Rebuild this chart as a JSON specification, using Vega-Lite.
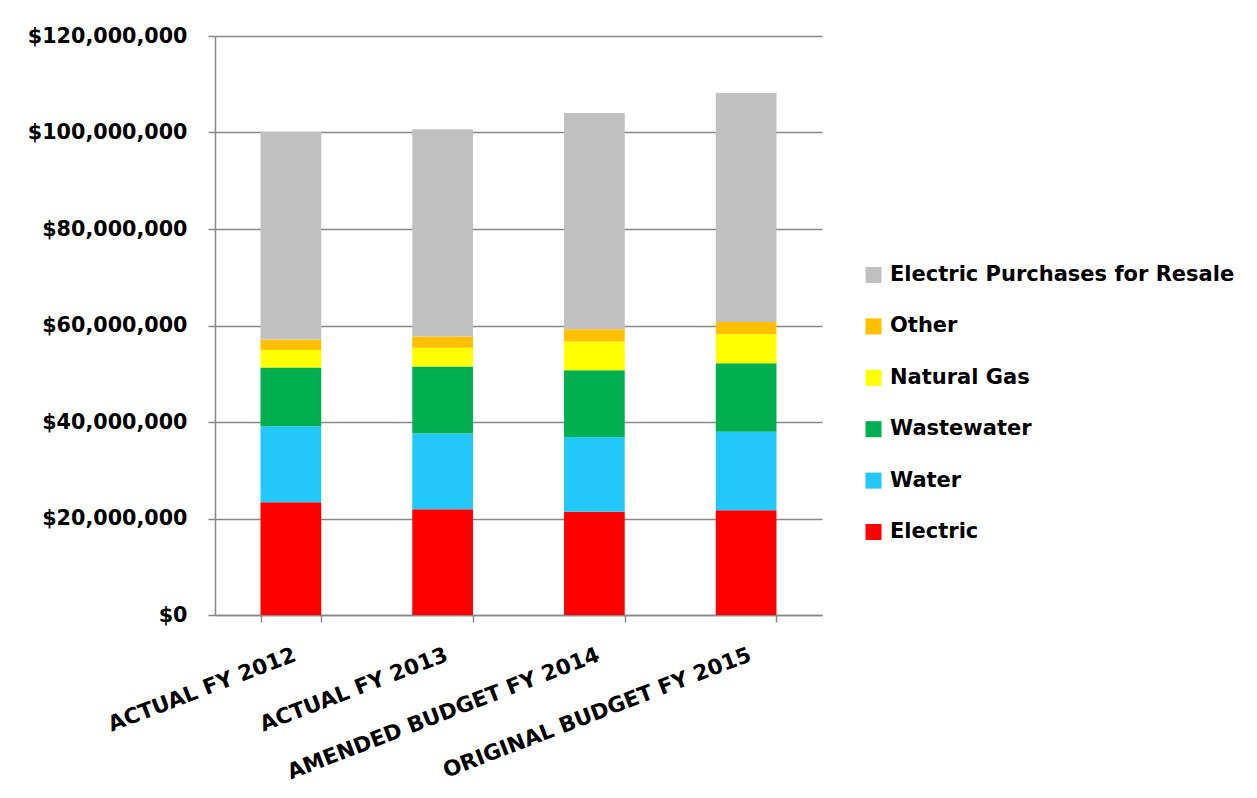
{
  "$schema": "https://vega.github.io/schema/vega-lite/v6.json",
  "width": 607,
  "height": 579,
  "autosize": {"type": "none"},
  "padding": {"left": 215, "top": 36, "right": 435, "bottom": 183},
  "background": "white",
  "config": {"view": {"stroke": null}, "font": "DejaVu Sans"},
  "data": {
    "values": [
      {"category": "ACTUAL FY 2012", "series": "Electric", "k": 1, "amount": 23350000},
      {"category": "ACTUAL FY 2012", "series": "Water", "k": 2, "amount": 15750000},
      {"category": "ACTUAL FY 2012", "series": "Wastewater", "k": 3, "amount": 12200000},
      {"category": "ACTUAL FY 2012", "series": "Natural Gas", "k": 4, "amount": 3600000},
      {"category": "ACTUAL FY 2012", "series": "Other", "k": 5, "amount": 2200000},
      {"category": "ACTUAL FY 2012", "series": "Electric Purchases for Resale", "k": 6, "amount": 43000000},
      {"category": "ACTUAL FY 2013", "series": "Electric", "k": 1, "amount": 21900000},
      {"category": "ACTUAL FY 2013", "series": "Water", "k": 2, "amount": 15700000},
      {"category": "ACTUAL FY 2013", "series": "Wastewater", "k": 3, "amount": 13900000},
      {"category": "ACTUAL FY 2013", "series": "Natural Gas", "k": 4, "amount": 3900000},
      {"category": "ACTUAL FY 2013", "series": "Other", "k": 5, "amount": 2300000},
      {"category": "ACTUAL FY 2013", "series": "Electric Purchases for Resale", "k": 6, "amount": 42950000},
      {"category": "AMENDED BUDGET FY 2014", "series": "Electric", "k": 1, "amount": 21400000},
      {"category": "AMENDED BUDGET FY 2014", "series": "Water", "k": 2, "amount": 15500000},
      {"category": "AMENDED BUDGET FY 2014", "series": "Wastewater", "k": 3, "amount": 13850000},
      {"category": "AMENDED BUDGET FY 2014", "series": "Natural Gas", "k": 4, "amount": 5950000},
      {"category": "AMENDED BUDGET FY 2014", "series": "Other", "k": 5, "amount": 2500000},
      {"category": "AMENDED BUDGET FY 2014", "series": "Electric Purchases for Resale", "k": 6, "amount": 44850000},
      {"category": "ORIGINAL BUDGET FY 2015", "series": "Electric", "k": 1, "amount": 21700000},
      {"category": "ORIGINAL BUDGET FY 2015", "series": "Water", "k": 2, "amount": 16300000},
      {"category": "ORIGINAL BUDGET FY 2015", "series": "Wastewater", "k": 3, "amount": 14200000},
      {"category": "ORIGINAL BUDGET FY 2015", "series": "Natural Gas", "k": 4, "amount": 6000000},
      {"category": "ORIGINAL BUDGET FY 2015", "series": "Other", "k": 5, "amount": 2500000},
      {"category": "ORIGINAL BUDGET FY 2015", "series": "Electric Purchases for Resale", "k": 6, "amount": 47500000}
    ]
  },
  "mark": {"type": "bar"},
  "encoding": {
    "x": {
      "field": "category",
      "type": "nominal",
      "sort": ["ACTUAL FY 2012", "ACTUAL FY 2013", "AMENDED BUDGET FY 2014", "ORIGINAL BUDGET FY 2015"],
      "scale": {"paddingInner": 0.6, "paddingOuter": 0.3},
      "axis": {
        "title": null,
        "labelAngle": -21,
        "labelFontSize": 21.5,
        "labelFontWeight": "bold",
        "labelColor": "black",
        "labelPadding": 22,
        "labelLimit": 1000,
        "tickBand": "extent",
        "tickSize": 7,
        "tickColor": "#888888",
        "tickWidth": 1.5,
        "domainColor": "#888888",
        "domainWidth": 1.5,
        "grid": false
      }
    },
    "y": {
      "field": "amount",
      "type": "quantitative",
      "stack": "zero",
      "scale": {"domain": [0, 120000000], "nice": false},
      "axis": {
        "title": null,
        "format": "$,.0f",
        "values": [0, 20000000, 40000000, 60000000, 80000000, 100000000, 120000000],
        "labelFontSize": 20.7,
        "labelFontWeight": "bold",
        "labelColor": "black",
        "labelPadding": 21,
        "tickSize": 7,
        "tickColor": "#888888",
        "tickWidth": 1.5,
        "domainColor": "#888888",
        "domainWidth": 1.5,
        "grid": true,
        "gridColor": "#888888",
        "gridWidth": 1.5
      }
    },
    "color": {
      "field": "series",
      "type": "nominal",
      "scale": {
        "domain": ["Electric Purchases for Resale", "Other", "Natural Gas", "Wastewater", "Water", "Electric"],
        "range": ["#C0C0C0", "#FFC000", "#FFFF00", "#00B050", "#22C9F8", "#FF0000"]
      },
      "legend": {
        "title": null,
        "orient": "none",
        "legendX": 648,
        "legendY": 228.5,
        "padding": 0,
        "symbolType": "square",
        "symbolSize": 256,
        "symbolStrokeWidth": 0,
        "labelFontSize": 21,
        "labelFontWeight": "bold",
        "labelColor": "black",
        "labelOffset": 6,
        "labelLimit": 600,
        "rowPadding": 29.4
      }
    },
    "order": {"field": "k", "type": "quantitative"}
  }
}
